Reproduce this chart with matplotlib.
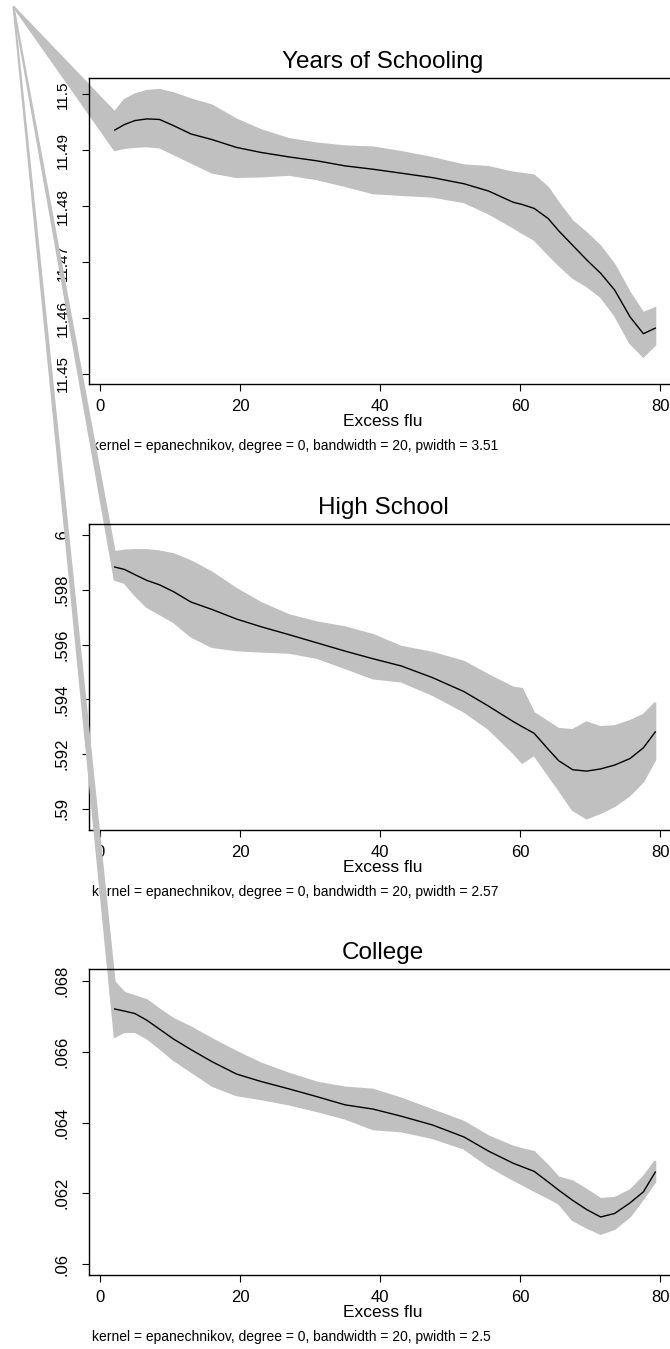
import numpy as np
import matplotlib
matplotlib.use("Agg")
import matplotlib.pyplot as plt

plt.rcParams['font.family'] = ['Liberation Sans', 'DejaVu Sans']

# lpoly grid (excess flu) and smoothed values with 95% CI
excess_flu = [2.1, 3.5, 5, 6.7, 8.5, 10.5, 13, 16, 19.5, 23, 27, 31, 35, 39, 43,
              47.5, 52, 55.5, 59, 60.3, 62, 64, 65.5, 67.5, 69.5, 71.5, 73.5, 75.7, 77.6, 79.3]

school_fit = [11.4936, 11.4946, 11.4953, 11.4956, 11.4955, 11.4944, 11.4929, 11.4919, 11.4905, 11.4896,
              11.4888, 11.4881, 11.4872, 11.4866, 11.4859, 11.4851, 11.4840, 11.4827, 11.4807, 11.4803,
              11.4796, 11.4778, 11.4756, 11.4730, 11.4704, 11.4680, 11.4650, 11.4602, 11.4572, 11.4582]
school_hi = [11.4968, 11.4990, 11.5000, 11.5006, 11.5008, 11.5002, 11.4991, 11.4980, 11.4955, 11.4936,
             11.4920, 11.4912, 11.4907, 11.4905, 11.4897, 11.4886, 11.4873, 11.4870, 11.4860, 11.4858,
             11.4855, 11.4833, 11.4806, 11.4773, 11.4752, 11.4728, 11.4695, 11.4645, 11.4609, 11.4618]
school_lo = [11.4900, 11.4904, 11.4906, 11.4907, 11.4905, 11.4893, 11.4878, 11.4860, 11.4852, 11.4853,
             11.4856, 11.4848, 11.4836, 11.4823, 11.4820, 11.4817, 11.4807, 11.4787, 11.4762, 11.4752,
             11.4740, 11.4714, 11.4695, 11.4672, 11.4657, 11.4638, 11.4605, 11.4555, 11.4531, 11.4552]

hs_fit = [.59883, .59874, .59855, .59834, .59818, .59793, .59755, .59728, .59693, .59665,
          .59636, .59606, .59576, .59548, .59522, .59479, .59428, .59375, .59319, .59300,
          .59276, .59218, .59176, .59143, .59138, .59146, .59160, .59184, .59223, .59281]
hs_hi = [.59938, .59943, .59945, .59945, .59940, .59930, .59904, .59863, .59803, .59752,
         .59707, .59681, .59663, .59635, .59592, .59570, .59537, .59488, .59443, .59438,
         .59350, .59317, .59292, .59288, .59316, .59299, .59302, .59321, .59343, .59387]
hs_lo = [.59836, .59825, .59780, .59737, .59711, .59682, .59629, .59591, .59579, .59574,
         .59570, .59551, .59514, .59476, .59465, .59416, .59355, .59292, .59205, .59168,
         .59197, .59124, .59070, .58996, .58965, .58985, .59010, .59050, .59100, .59179]

col_fit = [.06721, .06715, .06708, .06689, .06664, .06636, .06606, .06572, .06537, .06516,
           .06495, .06473, .06450, .06438, .06418, .06393, .06359, .06319, .06285, .06275,
           .06262, .06232, .06209, .06180, .06154, .06133, .06143, .06173, .06204, .06260]
col_hi = [.06797, .06767, .06757, .06746, .06720, .06693, .06669, .06636, .06600, .06567,
          .06538, .06513, .06499, .06493, .06468, .06435, .06402, .06361, .06332, .06325,
          .06317, .06278, .06245, .06234, .06210, .06184, .06187, .06208, .06246, .06291]
col_lo = [.06642, .06656, .06656, .06638, .06610, .06577, .06544, .06504, .06477, .06466,
          .06451, .06432, .06411, .06381, .06375, .06356, .06326, .06277, .06238, .06225,
          .06207, .06187, .06171, .06124, .06103, .06085, .06099, .06134, .06184, .06232]

titles = ["Years of Schooling", "High School", "College"]
pwidths = ["3.51", "2.57", "2.5"]
x_ticks = [0, 20, 40, 60, 80]

school_ticks = [11.45, 11.46, 11.47, 11.48, 11.49, 11.5]
school_labels = ["11.45", "11.46", "11.47", "11.48", "11.49", "11.5"]
hs_ticks = [.59, .592, .594, .596, .598, .6]
hs_labels = [".59", ".592", ".594", ".596", ".598", ".6"]
col_ticks = [.06, .062, .064, .066, .068]
col_labels = [".06", ".062", ".064", ".066", ".068"]

panels = [
    (school_fit, school_hi, school_lo, school_ticks, school_labels, (11.44821, 11.50291), 384, 11),
    (hs_fit, hs_hi, hs_lo, hs_ticks, hs_labels, (.58923, .6004), 830, 12),
    (col_fit, col_hi, col_lo, col_ticks, col_labels, (.05969, .06834), 1275, 12),
]

W, H = 670, 1349
fig = plt.figure(figsize=(W / 100, H / 100), dpi=100)
gray = "#c0c0c0"

# stray polygon vertex near the top-left corner (Stata drawing artifact)
anchor_px = (13.5, H - 6.5)

x = np.array(excess_flu)
for i, (fit, hi, lo, ticks, labels, ylim, bottom_px, ysize) in enumerate(panels):
    ax = fig.add_axes([89 / W, 1 - bottom_px / H, (677 - 89) / W, 306 / H])
    ax.set_xlim(-1.57, 82.4)
    ax.set_ylim(*ylim)

    ax_anchor = ax.transData.inverted().transform(anchor_px)
    poly_x = np.r_[ax_anchor[0], x, x[::-1]]
    poly_y = np.r_[ax_anchor[1], np.array(hi), np.array(lo)[::-1]]
    ax.fill(poly_x, poly_y, facecolor=gray, edgecolor=gray, lw=1.4,
            joinstyle="miter", clip_on=False, zorder=1)
    ax.plot(x, fit, color="black", lw=1.0, zorder=3)

    ax.set_xticks(x_ticks)
    ax.set_xticklabels([str(t) for t in x_ticks])
    ax.set_yticks(ticks)
    ax.set_yticklabels(labels, rotation=90, va="center")
    ax.tick_params(axis="both", length=5, width=0.8, labelsize=12, direction="out")
    ax.tick_params(axis="y", pad=9, labelsize=ysize)
    ax.tick_params(axis="x", pad=6)
    for s in ax.spines.values():
        s.set_linewidth(1.0)

    ax.set_xlabel("Excess flu", fontsize=12.5, labelpad=0)
    ax.annotate(titles[i], xy=(0.5, 1), xycoords="axes fraction", xytext=(0, 16),
                textcoords="offset pixels", ha="center", va="center", fontsize=17.5)
    note = ("kernel = epanechnikov, degree = 0, bandwidth = 20, pwidth = " + pwidths[i])
    ax.annotate(note, xy=(0, 0), xycoords="axes fraction", xytext=(3, -62),
                textcoords="offset pixels", ha="left", va="center", fontsize=10)

fig.savefig("out.png", dpi=100, facecolor="white")
